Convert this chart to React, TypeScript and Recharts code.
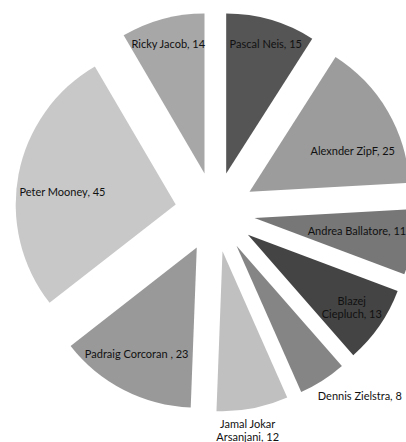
import React from 'react';
import { PieChart, Pie, Cell } from 'recharts';

const names = [
  'Pascal Neis',
  'Alexnder  ZipF',
  'Andrea Ballatore',
  'Blazej Ciepluch',
  'Dennis Zielstra',
  'Jamal Jokar Arsanjani',
  'Padraig Corcoran ',
  'Peter  Mooney',
  'Ricky Jacob',
];
const values = [15, 25, 11, 13, 8, 12, 23, 45, 14];
const colors = ['#555555', '#9c9c9c', '#777777', '#444444', '#858585', '#c0c0c0', '#999999', '#c8c8c8', '#a7a7a7'];
// label lines (wrapped as in the reference)
const labelLines = [
  ['Pascal Neis, 15'],
  ['Alexnder  ZipF, 25'],
  ['Andrea Ballatore, 11'],
  ['Blazej', 'Ciepluch, 13'],
  ['Dennis Zielstra, 8'],
  ['Jamal Jokar', 'Arsanjani, 12'],
  ['Padraig Corcoran , 23'],
  ['Peter  Mooney,  45'],
  ['Ricky Jacob, 14'],
];
// label placement (style): distance from pie centre and angle shift (deg, clockwise)
const labelRadius = [176, 151, 143, 166, 233, 220, 161, 154, 175];
const labelShift = [0.5, 6.2, -1.6, -0.2, -5.9, 2.3, 2.0, -3.0, -0.3];

const data = names.map((name, i) => ({ name, value: values[i] }));

const W = 406;
const H = 442;
const CX = 215;
const CY = 212;
const R = 160;
const EXPLODE = 40;
const RAD = Math.PI / 180;

const total = values.reduce((a, b) => a + b, 0);
// mid angle of each slice, measured clockwise from 12 o'clock
const midAngles = values.map((v, i) => {
  const before = values.slice(0, i).reduce((a, b) => a + b, 0);
  return ((before + v / 2) / total) * 360;
});

const FONT = 'Lato, "Open Sans", sans-serif';

export default function App() {
  return (
    <div style={{ position: 'absolute', left: 0, top: 0, width: W, height: H, background: '#fff' }}>
      <PieChart width={W} height={H} margin={{ top: 0, right: 0, bottom: 0, left: 0 }}>
        {data.map((d, i) => {
          const a = midAngles[i] * RAD;
          const dx = EXPLODE * Math.sin(a);
          const dy = -EXPLODE * Math.cos(a);
          return (
            <Pie
              key={d.name}
              data={data}
              dataKey="value"
              nameKey="name"
              cx={CX + dx}
              cy={CY + dy}
              innerRadius={0}
              outerRadius={R}
              startAngle={90}
              endAngle={-270}
              stroke="none"
              isAnimationActive={false}
              labelLine={false}
              label={(p: any) => {
                if (p.index !== i) return null;
                const ang = (midAngles[i] + labelShift[i]) * RAD;
                const x = CX + labelRadius[i] * Math.sin(ang);
                const y = CY - labelRadius[i] * Math.cos(ang);
                const lines = labelLines[i];
                const lh = 13;
                return (
                  <text
                    key={'l' + i}
                    x={x}
                    y={y - ((lines.length - 1) * lh) / 2}
                    textAnchor="middle"
                    dominantBaseline="central"
                    fill="#111111"
                    fontSize={11}
                    fontFamily={FONT}
                  >
                    {lines.map((t, k) => (
                      <tspan key={k} x={x} dy={k === 0 ? 0 : lh}>
                        {t}
                      </tspan>
                    ))}
                  </text>
                );
              }}
            >
              {data.map((_, j) => (
                <Cell key={j} fill={j === i ? colors[j] : 'none'} />
              ))}
            </Pie>
          );
        })}
      </PieChart>
    </div>
  );
}
